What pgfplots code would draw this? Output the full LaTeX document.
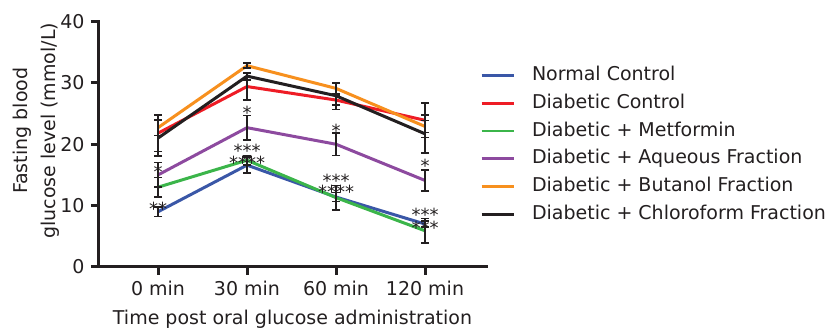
\documentclass[border=0pt]{standalone}
\usepackage{fontspec}
\setmainfont{DejaVu Sans}
\usepackage{pgfplots}
\usepackage{pgfplotstable}
\pgfplotsset{compat=1.18}
\definecolor{cblue}{HTML}{3A57A7}
\definecolor{cred}{HTML}{EE1C25}
\definecolor{cgreen}{HTML}{3BB54A}
\definecolor{cpurple}{HTML}{8D4A9F}
\definecolor{corange}{HTML}{F7901E}
\definecolor{cblack}{HTML}{231F20}

\pgfplotstableread{
x y e
0 9.0 0.8
1 16.6 1.3
2 11.4 0.7
3 7.0 0.5
}\normal
\pgfplotstableread{
x y e
0 21.8 3.0
1 29.4 2.2
2 27.2 0.8
3 23.9 2.8
}\diab
\pgfplotstableread{
x y e
0 13.0 1.6
1 17.4 0.8
2 11.3 2.0
3 5.9 2.0
}\metf
\pgfplotstableread{
x y e
0 15.0 2.0
1 22.7 2.0
2 20.0 1.8
3 14.1 1.7
}\aque
\pgfplotstableread{
x y e
0 22.7 1.3
1 32.8 0.4
2 29.1 0.8
3 22.9 1.0
}\buta
\pgfplotstableread{
x y e
0 21.0 2.9
1 31.1 0.6
2 27.9 2.2
3 21.7 3.1
}\chlo

\begin{document}
\fontsize{19}{23}\selectfont
\begin{tikzpicture}
\begin{axis}[name=ax, scale only axis, width=387pt, height=245.5pt,
  xmin=-0.663, xmax=3.685, ymin=0, ymax=40,
  axis lines=left,
  axis line style={line width=3pt, -, cblack, line cap=rect},
  xtick={0,1,2,3}, xticklabels={0 min,30 min,60 min,120 min},
  ytick={0,10,20,30,40},
  tick style={line width=3pt, cblack},
  major tick length=8pt, tick align=outside,
  minor tick num=0,
  tick label style={font=\fontsize{19}{23}\selectfont, text=cblack},
  /pgf/number format/assume math mode=true,
  xlabel={Time post oral glucose administration},
  xlabel style={font=\fontsize{19}{23}\selectfont, text=cblack, yshift=-1pt},
  ylabel={Fasting blood\\glucose level (mmol/L)},
  ylabel style={font=\fontsize{19}{28}\selectfont, align=center, text=cblack,
    at={(rel axis cs:-0.101,0.555)}, anchor=south, inner sep=0pt},
  clip=false,
  legend style={draw=none, fill=none, at={(1,0.497)}, anchor=west, xshift=-9pt,
    font=\fontsize{19}{23}\selectfont, text=cblack,
    nodes={inner sep=0pt, text height=14pt, text depth=4pt}, row sep=9.8pt,
    /tikz/every even column/.append style={column sep=0pt}},
  legend cell align=left,
  legend image code/.code={\draw[#1, line width=2.8pt] (0pt,0pt) -- (32pt,0pt);},
  every axis plot/.append style={line width=3pt, mark=none},
  error bars/y dir=both, error bars/y explicit,
  error bars/error bar style={line width=1.5pt, cblack},
  error bars/error mark options={rotate=90, mark size=4pt, line width=1.5pt, cblack},
]
\addplot[cblue] table[x=x,y=y,y error=e] {\normal};
\addlegendentry{\hspace{17pt}Normal Control}
\addplot[cred] table[x=x,y=y,y error=e] {\diab};
\addlegendentry{\hspace{17pt}Diabetic Control}
\addplot[cgreen] table[x=x,y=y,y error=e] {\metf};
\addlegendentry{\hspace{17pt}Diabetic + Metformin}
\addplot[cpurple] table[x=x,y=y,y error=e] {\aque};
\addlegendentry{\hspace{17pt}Diabetic + Aqueous Fraction}
\addplot[corange] table[x=x,y=y,y error=e] {\buta};
\addlegendentry{\hspace{17pt}Diabetic + Butanol Fraction}
\addplot[cblack] table[x=x,y=y,y error=e] {\chlo};
\addlegendentry{\hspace{17pt}Diabetic + Chloroform Fraction}

\begin{scope}[every node/.style={font=\fontsize{18}{18}\selectfont, text=cblack, inner sep=0pt, yshift=-3pt}]
\node at (axis cs:0,15.97) {*};
\node at (axis cs:0,9.9) {**};
\node at (axis cs:1,25.6) {*};
\node at (axis cs:1,19.4) {***};
\node at (axis cs:1,17.5) {****};
\node at (axis cs:2,22.6) {*};
\node at (axis cs:2,14.6) {***};
\node at (axis cs:2,12.8) {****};
\node at (axis cs:3,16.9) {*};
\node at (axis cs:3,9.0) {***};
\node at (axis cs:3,6.85) {***};
\end{scope}
\end{axis}
\pgfresetboundingbox
\path[use as bounding box] ([shift={(-99pt,-61pt)}]ax.south west) rectangle ++(834pt,328pt);
\end{tikzpicture}
\end{document}
